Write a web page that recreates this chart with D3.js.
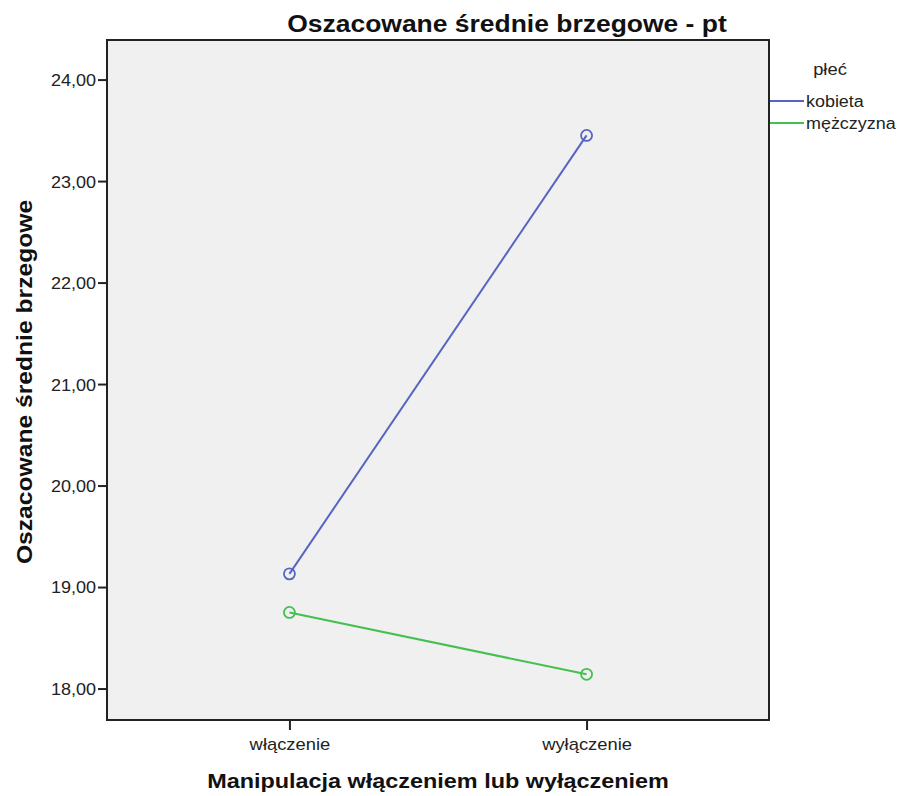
<!DOCTYPE html>
<html><head><meta charset="utf-8">
<script src="https://cdn.jsdelivr.net/npm/d3@7"></script>
<style>body{margin:0;background:#fff}svg{display:block}text{font-family:"Liberation Sans",Arial,sans-serif}</style>
</head><body>
<script>
const categories = ["włączenie", "wyłączenie"];
const seriesNames = ["kobieta", "mężczyzna"];
const kobieta = [19.13, 23.45];
const mezczyzna = [18.75, 18.14];
const yTicks = [18, 19, 20, 21, 22, 23, 24];
const colors = ["#5566c2", "#45bf4f"];
const series = [kobieta, mezczyzna];

const W = 901, H = 796;
const m = {l: 107, r: 769, t: 40, b: 720};
const svg = d3.select("body").append("svg").attr("width", W).attr("height", H);

function stretch(sel, f) {
  sel.each(function() {
    const w = this.getComputedTextLength();
    d3.select(this).attr("textLength", w * f).attr("lengthAdjust", "spacingAndGlyphs");
  });
}

const x = d3.scalePoint().domain(categories).range([m.l, m.r]).padding(0.614);
const y = d3.scaleLinear().domain([17.69, 24.39]).range([m.b, m.t]);

svg.append("rect").attr("x", m.l).attr("y", m.t).attr("width", m.r - m.l).attr("height", m.b - m.t)
  .attr("fill", "#f0f0f0").attr("stroke", "#222").attr("stroke-width", 2);

const fmt = d => d3.format(".2f")(d).replace(".", ",");
const yAxis = svg.append("g").attr("transform", `translate(${m.l},0)`)
  .call(d3.axisLeft(y).tickValues(yTicks).tickFormat(fmt).tickSize(9).tickPadding(2));
yAxis.select(".domain").remove();
yAxis.selectAll("line").attr("stroke", "#222").attr("stroke-width", 2);
yAxis.selectAll("text").attr("font-size", 17).attr("fill", "#222").attr("dy", "0.35em");
stretch(yAxis.selectAll("text"), 1.06);

const xAxis = svg.append("g").attr("transform", `translate(0,${m.b})`)
  .call(d3.axisBottom(x).tickSize(10).tickPadding(8));
xAxis.select(".domain").remove();
xAxis.selectAll("line").attr("stroke", "#222").attr("stroke-width", 2);
xAxis.selectAll("text").attr("font-size", 17).attr("fill", "#222");
stretch(xAxis.selectAll("text"), 1.08);

const line = d3.line().x((d, i) => x(categories[i])).y(d => y(d));
series.forEach((s, k) => {
  svg.append("path").datum(s).attr("d", line).attr("fill", "none")
    .attr("stroke", colors[k]).attr("stroke-width", 2);
  svg.selectAll(null).data(s).enter().append("circle")
    .attr("cx", (d, i) => x(categories[i])).attr("cy", d => y(d)).attr("r", 5.5)
    .attr("fill", "none").attr("stroke", colors[k]).attr("stroke-width", 1.8);
});

const t1 = svg.append("text").attr("x", 507).attr("y", 32).attr("text-anchor", "middle")
  .attr("font-size", 23).attr("font-weight", "bold").attr("fill", "#111").text("Oszacowane średnie brzegowe - pt");
stretch(t1, 1.15);
const t2 = svg.append("text").attr("x", 438).attr("y", 788).attr("text-anchor", "middle")
  .attr("font-size", 20).attr("font-weight", "bold").attr("fill", "#111").text("Manipulacja włączeniem lub wyłączeniem");
stretch(t2, 1.17);
const t3 = svg.append("text").attr("transform", "translate(32,382) rotate(-90)").attr("text-anchor", "middle")
  .attr("font-size", 22).attr("font-weight", "bold").attr("fill", "#111").text("Oszacowane średnie brzegowe");
stretch(t3, 1.12);

const lt = svg.append("text").attr("x", 830).attr("y", 75).attr("text-anchor", "middle")
  .attr("font-size", 17).attr("fill", "#222").text("płeć");
stretch(lt, 1.08);
seriesNames.forEach((n, k) => {
  const yy = 101 + k * 22;
  svg.append("line").attr("x1", 770).attr("x2", 804).attr("y1", yy).attr("y2", yy)
    .attr("stroke", colors[k]).attr("stroke-width", 2);
  const tt = svg.append("text").attr("x", 806).attr("y", yy + 6).attr("font-size", 16).attr("fill", "#222").text(n);
  stretch(tt, 1.12);
});
</script>
</body></html>
